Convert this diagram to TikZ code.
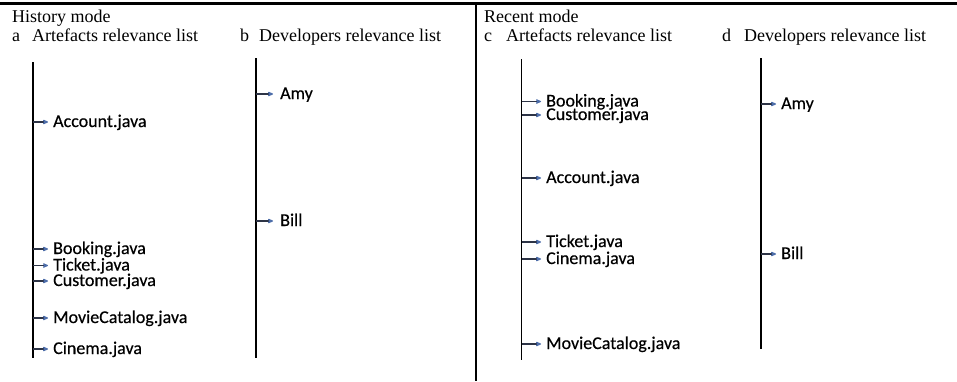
\documentclass[tikz,border=0pt]{standalone}
\usepackage{fontspec}
\setmainfont{Liberation Serif}
\newfontfamily\labelfont{Carlito}[FakeBold=0.4]
\usetikzlibrary{arrows.meta}
\definecolor{tipblue}{RGB}{78,110,170}
\definecolor{shaftgrey}{RGB}{45,52,70}

\begin{document}
\begin{tikzpicture}[x=1pt,y=-1pt,
  heading/.style={font=\fontsize{18}{21}\selectfont, inner sep=0pt, anchor=base west},
  item/.style={font=\labelfont\fontsize{18}{20}\selectfont, inner sep=0pt, anchor=base west},
  spine/.style={line width=1.5pt, draw=black},
  toprule/.style={line width=2.4pt, draw=black},
  divider/.style={line width=1.3pt, draw=black},
  pointer/.style={line width=1.3pt, draw=shaftgrey,
    -{Stealth[length=7pt,width=6pt,round,color=tipblue]}, shorten >=5pt}
]
\useasboundingbox (0,0) rectangle (957,381);

% frame: top rule and the divider between the two modes
\coordinate (ruleL) at (0,3.5);
\coordinate (ruleR) at (957,3.5);
\coordinate (divT) at (476,3.5);
\coordinate (divB) at (476,381);
\draw[toprule] (ruleL) -- (ruleR);
\draw[divider] (divT) -- (divB);

% headings
\node[heading] (histT) at (12,22) {History mode};
\node[heading] (aTag) at (12,41) {a};
\node[heading] (aT) at (32,41) {Artefacts relevance list};
\node[heading] (bTag) at (240,41) {b};
\node[heading] (bT) at (259,41) {Developers relevance list};
\node[heading] (recT) at (484,22) {Recent mode};
\node[heading] (cTag) at (484,41) {c};
\node[heading] (cT) at (506,41) {Artefacts relevance list};
\node[heading] (dTag) at (722,41) {d};
\node[heading] (dT) at (744,41) {Developers relevance list};

% spines of the four lists
\coordinate (aTop) at (33,62);    \coordinate (aBot) at (33,358);
\coordinate (bTop) at (256,58);   \coordinate (bBot) at (256,358);
\coordinate (cTop) at (521.5,59); \coordinate (cBot) at (521.5,360);
\coordinate (dTop) at (761,58);   \coordinate (dBot) at (761,349);
\foreach \s in {a,b,c,d} \draw[spine] (\s Top) -- (\s Bot);

% a: artefacts, history mode
\foreach \n/\y/\t in {1/122/Account.java, 2/249/Booking.java, 3/265.5/Ticket.java,
                      4/281/Customer.java, 5/318/MovieCatalog.java, 6/349/Cinema.java} {
  \coordinate (a\n) at (33,\y);
  \node[item] (al\n) at (53,\y+5) {\t};
  \draw[pointer] (a\n) -- (al\n.west |- a\n);
}

% b: developers, history mode
\foreach \n/\y/\t in {1/94/Amy, 2/221/Bill} {
  \coordinate (b\n) at (256,\y);
  \node[item] (bl\n) at (280,\y+5) {\t};
  \draw[pointer, shorten >=7pt] (b\n) -- (bl\n.west |- b\n);
}

% c: artefacts, recent mode
\foreach \n/\y/\t in {1/101.5/Booking.java, 2/115/Customer.java, 3/178/Account.java,
                      4/242/Ticket.java, 5/259/Cinema.java, 6/344/MovieCatalog.java} {
  \coordinate (c\n) at (521.5,\y);
  \node[item] (cl\n) at (546,\y+5) {\t};
  \draw[pointer] (c\n) -- (cl\n.west |- c\n);
}

% d: developers, recent mode
\foreach \n/\y/\t in {1/104/Amy, 2/254/Bill} {
  \coordinate (d\n) at (761,\y);
  \node[item] (dl\n) at (781,\y+5) {\t};
  \draw[pointer] (d\n) -- (dl\n.west |- d\n);
}
\end{tikzpicture}
\end{document}
